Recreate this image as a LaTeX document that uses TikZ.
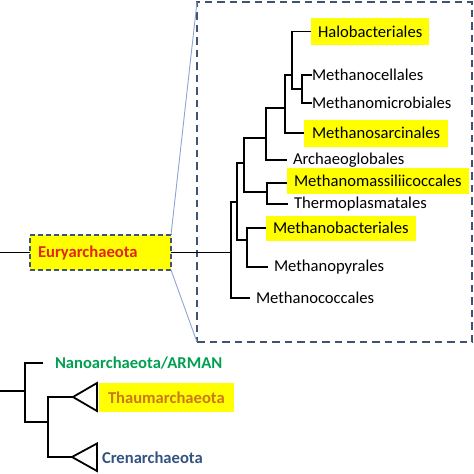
\documentclass[tikz,border=0pt]{standalone}
\usepackage{fontspec}
\setmainfont{Carlito}
\definecolor{hlyellow}{RGB}{255,255,0}
\definecolor{eurred}{RGB}{226,36,26}
\definecolor{thaumor}{RGB}{204,118,30}
\definecolor{nanogreen}{RGB}{0,160,80}
\definecolor{crenblue}{RGB}{52,82,130}
\definecolor{boxgray}{RGB}{64,84,112}
\definecolor{zoomblue}{RGB}{140,165,210}
\begin{document}
\begin{tikzpicture}[x=1pt,y=-1pt,
  font=\fontsize{16.6}{19}\selectfont,
  br/.style={line width=1.8pt, black},
  lab/.style={anchor=west, inner ysep=0pt, inner xsep=6pt, outer sep=0pt},
  labtight/.style={lab, inner xsep=0pt},
  hl/.style={anchor=west, fill=hlyellow, inner ysep=0pt, outer sep=0pt},
  bigbox/.style={draw=boxgray, line width=2.6pt, dash pattern=on 7.5pt off 5pt},
  zoomline/.style={draw=zoomblue, line width=0.9pt},
  tri/.style={line width=1.8pt, black, line join=miter}
]
\useasboundingbox (0,0) rectangle (474,474);

% ---------- zoom box ----------
\node[bigbox, anchor=north west, minimum width=275pt, minimum height=340pt, inner sep=0pt, outer sep=0pt] (zoom) at (197,2) {};

% ---------- Euryarchaeota ----------
\node[anchor=west, fill=hlyellow, draw=boxgray, line width=1.8pt, dash pattern=on 5pt off 3pt,
      minimum height=35pt, text width=125pt, align=left, inner xsep=8pt, inner ysep=0pt,
      outer sep=0pt, text=eurred, font=\fontsize{16.6}{19}\selectfont\bfseries] (eury) at (30,252.5) {Euryarchaeota};
\coordinate (leftE) at (0,252.5);
\draw[br] (leftE) -- (eury.west);

\draw[zoomline] (eury.north east) -- (zoom.north west);
\draw[zoomline] (eury.south east) -- (zoom.south west);

% ---------- leaves inside the box ----------
\node[hl, minimum height=27pt, inner xsep=7pt] (halo) at (311,31.5) {Halobacteriales};
\node[labtight] (mcell) at (312,75) {Methanocellales};
\node[labtight] (mmicro) at (312,103) {Methanomicrobiales};
\node[hl, minimum height=27pt, inner xsep=8pt] (msarc) at (304,133) {Methanosarcinales};
\node[lab] (archaeo) at (287,160) {Archaeoglobales};
\node[hl, minimum height=26pt, inner xsep=7pt] (mmass) at (287,181) {Methanomassiliicoccales};
\node[lab] (thermo) at (288,204) {Thermoplasmatales};
\node[hl, minimum height=25pt, inner xsep=7pt] (mbac) at (266,228) {Methanobacteriales};
\node[lab] (mpyr) at (268,267) {Methanopyrales};
\node[lab] (mcocc) at (250,298) {Methanococcales};

% internal tree points
\coordinate (nHM) at (302,89);
\coordinate (nH) at (292,75);
\coordinate (nHS) at (285,108);
\coordinate (nHSA) at (266,138);
\coordinate (nMT) at (267,192);
\coordinate (nHT) at (244,163);
\coordinate (nBP) at (247,240);
\coordinate (nHB) at (237,202);
\coordinate (nRoot) at (231,252.5);

% Methanocellales + Methanomicrobiales
\draw[br] (mcell.west) -| (nHM) |- (mmicro.west);
% Halobacteriales + previous
\draw[br] (halo.west) -| (nH) |- (nHM);
% + Methanosarcinales
\draw[br] (nH) -| (nHS) |- (msarc.west);
% + Archaeoglobales
\draw[br] (nHS) -| (nHSA) |- (archaeo.west);
% Methanomassiliicoccales + Thermoplasmatales
\draw[br] (mmass.west |- 0,183) -| (nMT) |- (thermo.west);
% join
\draw[br] (nHSA) -| (nHT) |- (nMT);
% Methanobacteriales + Methanopyrales
\draw[br] (mbac.west) -| (nBP) |- (mpyr.west);
\draw[br] (nHT) -| (nHB) |- (nBP);
% root of Euryarchaeota
\draw[br] (nHB) -| (nRoot) |- (mcocc.west);
\draw[br] (eury.east) -- (nRoot);

% ---------- lower tree ----------
\coordinate (leftB) at (0,391);
\coordinate (nB1) at (25,391);
\coordinate (nB2) at (48,422);
\node[lab, inner xsep=12pt, text=nanogreen, font=\fontsize{16.6}{19}\selectfont\bfseries] (nano) at (43,363) {Nanoarchaeota/ARMAN};

\coordinate (tipT) at (73,397);
\coordinate (tipC) at (72,457);
\draw[tri] (tipT) -- (97,383) -- (97,411) -- cycle;
\draw[tri] (tipC) -- (97,443.5) -- (97,471) -- cycle;

\node[hl, minimum height=29pt, inner xsep=9pt, text=thaumor, font=\fontsize{16.6}{19}\selectfont\bfseries] (thaum) at (99,397.5) {Thaumarchaeota};
\node[lab, inner xsep=5pt, text=crenblue, font=\fontsize{16.6}{19}\selectfont\bfseries] (cren) at (97,458) {Crenarchaeota};

\draw[br] (leftB) -- (nB1);
\draw[br] (nano.west) -| (nB1) |- (nB2);
\draw[br] (tipT) -| (nB2) |- (tipC);
\end{tikzpicture}
\end{document}
